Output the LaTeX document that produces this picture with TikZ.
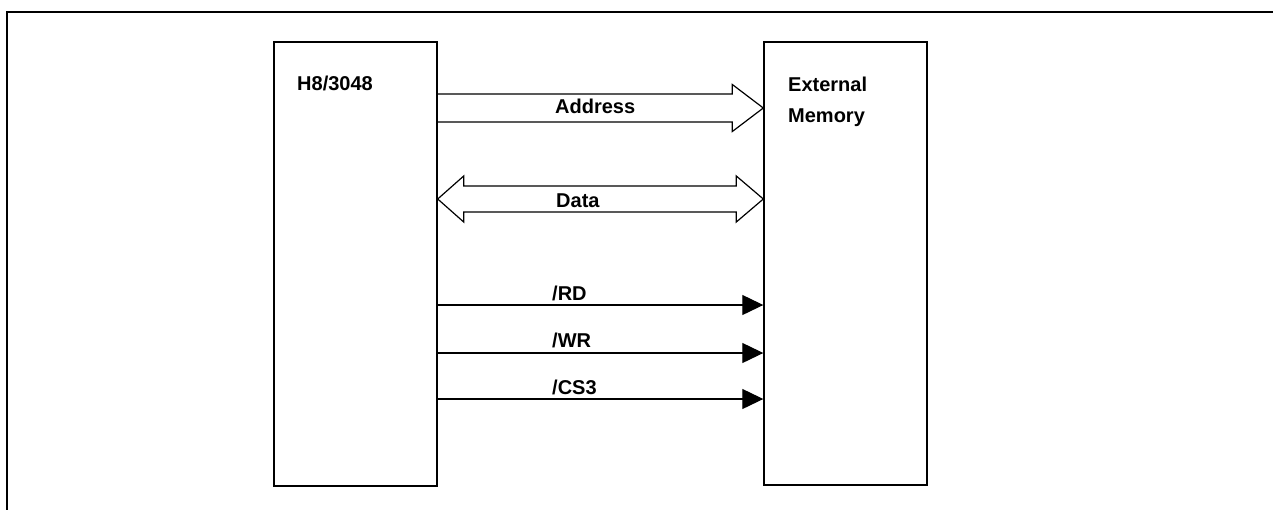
\documentclass[tikz,border=0pt]{standalone}
\usepackage{fontspec}
\setmainfont{Liberation Sans}
\usetikzlibrary{arrows.meta,calc}
\begin{document}
\begin{tikzpicture}[x=1pt,y=-1pt,
  lbl/.style={anchor=base west,inner sep=0pt,font=\fontsize{20}{31}\selectfont\bfseries},
  blockbox/.style={draw,line width=1.4pt,inner sep=0pt},
  bus/.style={draw,line width=1.2pt,line join=miter},
  sig/.style={draw,line width=1.2pt,-{Triangle[length=21pt,width=20pt]}}]
\useasboundingbox (0,0) rectangle (1273,509);
% outer frame (only top and left edges show)
\draw[line width=2pt] (7,515) -- (7,12) -- (1280,12);
% blocks
\node[blockbox,minimum width=163pt,minimum height=444pt] (h8) at (355.5,264) {};
\node[blockbox,minimum width=163pt,minimum height=443pt] (mem) at (845.5,263.5) {};
\node[lbl] (h8t) at (297,90) {H8/3048};
\node[lbl] (memt1) at (788,91) {External};
\node[lbl] (memt2) at (788,122) {Memory};
% reference rows
\coordinate (ya) at (0,108);
\coordinate (yd) at (0,199);
\coordinate (yrd) at (0,305);
\coordinate (ywr) at (0,353);
\coordinate (ycs) at (0,399);
% address bus
\coordinate (aL) at (h8.east |- ya);
\coordinate (aR) at (mem.west |- ya);
\draw[bus] ($(aL)+(0,-14)$) -- ($(aR)+(-31,-14)$) -- ($(aR)+(-31,-23.5)$) -- (aR)
  -- ($(aR)+(-31,23.5)$) -- ($(aR)+(-31,14)$) -- ($(aL)+(0,14)$);
\node[lbl] (addr) at (555,113) {Address};
% data bus
\coordinate (dL) at (h8.east |- yd);
\coordinate (dR) at (mem.west |- yd);
\draw[bus] (dL) -- ($(dL)+(26,-23)$) -- ($(dL)+(26,-13)$) -- ($(dR)+(-27,-13)$) -- ($(dR)+(-27,-23)$)
  -- (dR) -- ($(dR)+(-27,23)$) -- ($(dR)+(-27,13)$) -- ($(dL)+(26,13)$) -- ($(dL)+(26,23)$) -- cycle;
\node[lbl] (data) at (556,207) {Data};
% control signals
\draw[sig] (h8.east |- yrd) -- (mem.west |- yrd);
\draw[sig] (h8.east |- ywr) -- (mem.west |- ywr);
\draw[sig] (h8.east |- ycs) -- (mem.west |- ycs);
\node[lbl] (rd) at (552,300) {/RD};
\node[lbl] (wr) at (552,347) {/WR};
\node[lbl] (cs) at (552,394) {/CS3};
\end{tikzpicture}
\end{document}
